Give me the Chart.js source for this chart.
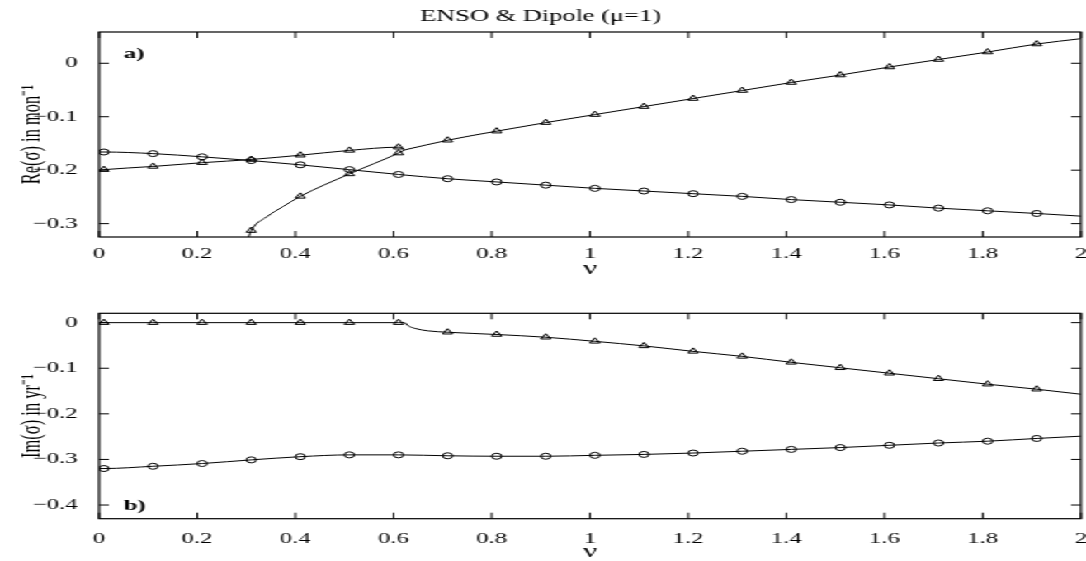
<!DOCTYPE html>
<html>
<head>
<meta charset="utf-8">
<script src="https://cdn.jsdelivr.net/npm/chart.js@4.4.0/dist/chart.umd.min.js"></script>
<style>
  html, body { margin: 0; padding: 0; background: #fff; }
  body { width: 1086px; height: 561px; overflow: hidden; }
  /* the original figure is stretched sideways, so draw narrow and widen */
  .stretch { width: 658px; height: 565px; transform: scaleX(1.6505); transform-origin: 0 0; }
  canvas { display: block; }
</style>
</head>
<body>
<div class="stretch">
  <canvas id="re" width="658" height="290"></canvas>
  <canvas id="im" width="658" height="275"></canvas>
</div>
<script>
// axis ticks
const xTicks = [0, 0.2, 0.4, 0.6, 0.8, 1, 1.2, 1.4, 1.6, 1.8, 2];
const xTickLabels = ["0", "0.2", "0.4", "0.6", "0.8", "1", "1.2", "1.4", "1.6", "1.8", "2"];
const reTicks = [-0.3, -0.2, -0.1, 0];
const reTickLabels = ["−0.3", "−0.2", "−0.1", "0"];
const imTicks = [-0.4, -0.3, -0.2, -0.1, 0];
const imTickLabels = ["−0.4", "−0.3", "−0.2", "−0.1", "0"];

// a) Re(sigma), circles
const reCircNu = [0, 0.01, 0.11, 0.21, 0.31, 0.41, 0.51, 0.61, 0.71, 0.81, 0.91, 1.01, 1.11, 1.21, 1.31, 1.41, 1.51, 1.61, 1.71, 1.81, 1.91, 2];
const reCirc = [-0.166, -0.166, -0.169, -0.175, -0.182, -0.190, -0.199, -0.208, -0.216, -0.222, -0.228, -0.234, -0.239, -0.244, -0.249, -0.255, -0.260, -0.265, -0.271, -0.276, -0.281, -0.286];
// a) Re(sigma), triangles: two real branches that merge near nu=0.62
const reTriANu = [0, 0.01, 0.11, 0.21, 0.31, 0.41, 0.51, 0.61, 0.623];
const reTriA = [-0.200, -0.199, -0.193, -0.186, -0.180, -0.172, -0.163, -0.157, -0.162];
const reTriBNu = [0.299, 0.31, 0.342, 0.375, 0.41, 0.51, 0.61, 0.623];
const reTriB = [-0.34, -0.313, -0.287, -0.268, -0.249, -0.207, -0.168, -0.162];
const reTriCNu = [0.623, 0.71, 0.81, 0.91, 1.01, 1.11, 1.21, 1.31, 1.41, 1.51, 1.61, 1.71, 1.81, 1.91, 2];
const reTriC = [-0.162, -0.144, -0.127, -0.111, -0.096, -0.081, -0.066, -0.051, -0.036, -0.022, -0.007, 0.007, 0.021, 0.036, 0.046];

// b) Im(sigma)
const imCircNu = [0, 0.01, 0.11, 0.21, 0.31, 0.41, 0.51, 0.61, 0.71, 0.81, 0.91, 1.01, 1.11, 1.21, 1.31, 1.41, 1.51, 1.61, 1.71, 1.81, 1.91, 2];
const imCirc = [-0.320, -0.320, -0.315, -0.309, -0.301, -0.294, -0.290, -0.290, -0.292, -0.293, -0.293, -0.291, -0.289, -0.286, -0.282, -0.278, -0.274, -0.269, -0.264, -0.260, -0.254, -0.249];
const imTriNu = [0, 0.01, 0.11, 0.21, 0.31, 0.41, 0.51, 0.61, 0.622, 0.63, 0.645, 0.67, 0.71, 0.81, 0.91, 1.01, 1.11, 1.21, 1.31, 1.41, 1.51, 1.61, 1.71, 1.81, 1.91, 2];
const imTri = [0, 0, 0, 0, 0, 0, 0, 0, 0, -0.007, -0.013, -0.018, -0.021, -0.026, -0.032, -0.041, -0.051, -0.063, -0.074, -0.087, -0.099, -0.111, -0.123, -0.135, -0.146, -0.157];

const serif = "'Liberation Serif', 'Times New Roman', serif";

// markers only sit on nu = 0.01, 0.11, ... 1.91
const isMark = (x) => {
  const c = x * 100;
  return Math.abs(c - Math.round(c)) < 1e-6 && Math.round(c) % 10 === 1;
};

const curve = (nu, vals, style, extra) => Object.assign({
  data: nu.map((x, i) => ({ x: x, y: vals[i] })),
  borderColor: "#000",
  borderWidth: 1,
  backgroundColor: "rgba(0,0,0,0)",
  pointStyle: style,
  pointRadius: (c) => (c.raw && isMark(c.raw.x) ? (style === "triangle" ? 3.5 : 3) : 0),
  pointBorderColor: "#000",
  pointBackgroundColor: "rgba(0,0,0,0)",
  pointBorderWidth: 1,
  cubicInterpolationMode: "monotone",
}, extra || {});

// box round the plot, inward ticks on all four sides, panel tag
const framePlugin = {
  id: "frame",
  afterDatasetsDraw(chart, args, opts) {
    const { ctx, chartArea: a, scales } = chart;
    ctx.save();
    ctx.strokeStyle = "#000";
    ctx.lineWidth = 1;
    ctx.beginPath();
    xTicks.forEach((v) => {
      const px = scales.x.getPixelForValue(v);
      ctx.moveTo(px, a.bottom); ctx.lineTo(px, a.bottom - 6);
      ctx.moveTo(px, a.top); ctx.lineTo(px, a.top + 6);
    });
    opts.yTicks.forEach((v) => {
      const py = scales.y.getPixelForValue(v);
      ctx.moveTo(a.left, py); ctx.lineTo(a.left + 6, py);
      ctx.moveTo(a.right, py); ctx.lineTo(a.right - 6, py);
    });
    ctx.stroke();
    ctx.lineWidth = 1.2;
    ctx.strokeRect(a.left, a.top, a.right - a.left, a.bottom - a.top);
    ctx.fillStyle = "#000";
    ctx.font = "bold 15px " + serif;
    ctx.textBaseline = "middle";
    ctx.textAlign = "left";
    ctx.fillText(opts.tag, 75, opts.tagY);
    ctx.restore();
  },
};

const panelOptions = (p) => ({
  responsive: false,
  animation: false,
  layout: { padding: { top: p.padTop, right: 3.1, left: 0, bottom: 0 } },
  plugins: {
    legend: { display: false },
    tooltip: { enabled: false },
    title: p.title
      ? { display: true, text: p.title, color: "#000", font: { family: serif, size: 16, weight: "normal" }, padding: { top: 7.5, bottom: 5.3 } }
      : { display: false },
    frame: { yTicks: p.yTicks, tag: p.tag, tagY: p.tagY },
  },
  scales: {
    x: {
      type: "linear", min: 0, max: 2,
      grid: { display: false }, border: { display: false },
      afterBuildTicks: (s) => { s.ticks = xTicks.map((v) => ({ value: v })); },
      afterFit: (s) => { s.height = p.xHeight; s.paddingLeft = 0; s.paddingRight = 0; },
      ticks: {
        padding: p.xPad, color: "#000", maxRotation: 0, autoSkip: false,
        font: { family: serif, size: 15 },
        callback: (v) => xTickLabels[xTicks.indexOf(v)],
      },
      title: { display: true, text: "ν", color: "#000", font: { family: serif, size: 19 }, padding: { top: 0, bottom: p.nuPad } },
    },
    y: {
      type: "linear", min: p.yMin, max: p.yMax,
      grid: { display: false }, border: { display: false },
      afterBuildTicks: (s) => { s.ticks = p.yTicks.map((v) => ({ value: v })); },
      afterFit: (s) => { s.width = 60; s.paddingTop = 0; s.paddingBottom = 0; },
      ticks: {
        padding: 5, color: "#000",
        font: { family: serif, size: 15 },
        callback: (v) => p.yLabels[p.yTicks.indexOf(v)],
      },
      title: { display: true, text: p.yTitle, color: "#000", font: { family: serif, size: 16.5 }, padding: { top: 9.5, bottom: 0 } },
    },
  },
});

new Chart(document.getElementById("re"), {
  type: "line",
  data: {
    datasets: [
      curve(reCircNu, reCirc, "circle"),
      curve(reTriANu, reTriA, "triangle"),
      curve(reTriBNu, reTriB, "triangle", { clip: { left: 5, top: 5, right: 5, bottom: 0 } }),
      curve(reTriCNu, reTriC, "triangle"),
    ],
  },
  options: panelOptions({
    title: "ENSO & Dipole (μ=1)", padTop: 0, xHeight: 53, xPad: 0, nuPad: 10,
    yMin: -0.325, yMax: 0.0585, yTicks: reTicks, yLabels: reTickLabels,
    yTitle: "Re(σ) in mon⁻¹", tag: "a)", tagY: 54,
  }),
  plugins: [framePlugin],
});

new Chart(document.getElementById("im"), {
  type: "line",
  data: {
    datasets: [
      curve(imCircNu, imCirc, "circle"),
      curve(imTriNu, imTri, "triangle"),
    ],
  },
  options: panelOptions({
    title: null, padTop: 23.3, xHeight: 46.3, xPad: 3, nuPad: 1.6,
    yMin: -0.43, yMax: 0.0205, yTicks: imTicks, yLabels: imTickLabels,
    yTitle: "Im(σ) in yr⁻¹", tag: "b)", tagY: 216,
  }),
  plugins: [framePlugin],
});
</script>
</body>
</html>
